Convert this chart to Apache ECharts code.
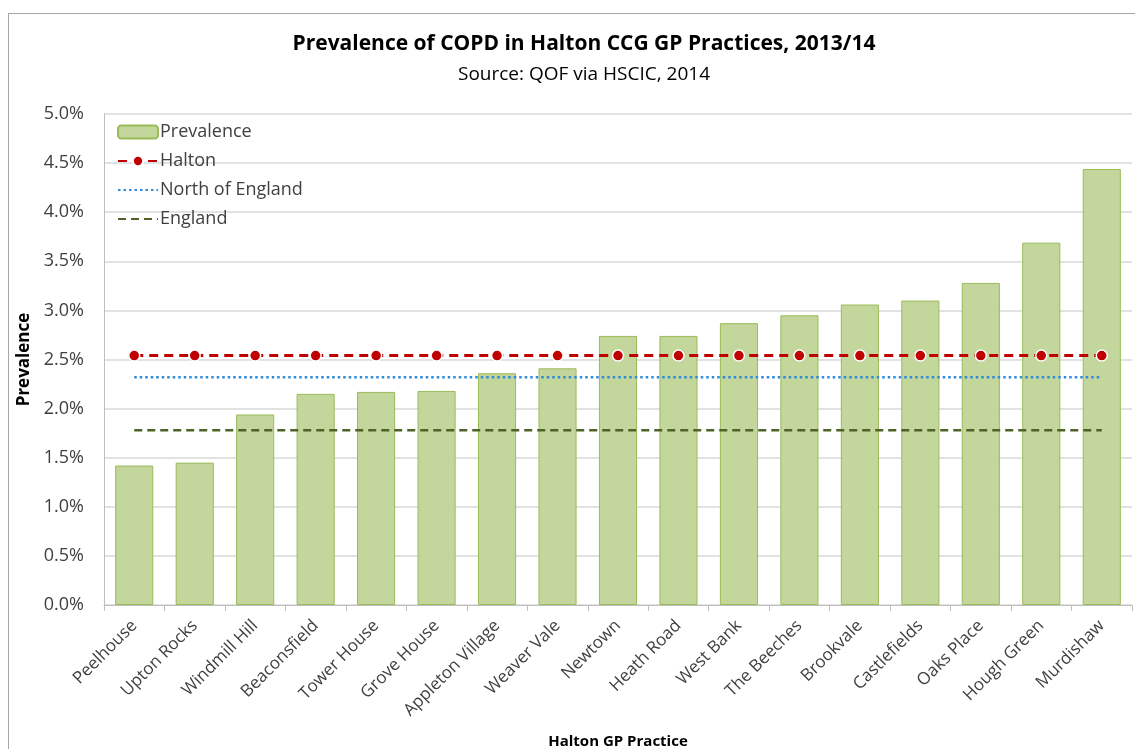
<!DOCTYPE html>
<html>
<head>
<meta charset="utf-8">
<script src="https://cdn.jsdelivr.net/npm/echarts@6/dist/echarts.min.js"></script>
<style>
  html, body { margin: 0; padding: 0; background: #fff; }
  #frame { position: absolute; left: 8px; top: 13px; width: 1140px; height: 745px; border: 1px solid #A6A6A6; box-sizing: border-box; }
  #main { position: absolute; left: 0; top: 0; width: 1135px; height: 749px; }
</style>
</head>
<body>
<div id="frame"></div>
<div id="main"></div>
<script>
// practices, sorted by prevalence
var practices = ['Peelhouse', 'Upton Rocks', 'Windmill Hill', 'Beaconsfield', 'Tower House',
  'Grove House', 'Appleton Village', 'Weaver Vale', 'Newtown', 'Heath Road', 'West Bank',
  'The Beeches', 'Brookvale', 'Castlefields', 'Oaks Place', 'Hough Green', 'Murdishaw'];
// prevalence in %
var prevalence = [1.42, 1.45, 1.94, 2.15, 2.17, 2.18, 2.36, 2.41, 2.74, 2.74, 2.87, 2.95, 3.06, 3.10, 3.28, 3.69, 4.44];
var haltonRate = 2.54;
var northRate = 2.32;
var englandRate = 1.78;
var yTicks = [0, 0.5, 1, 1.5, 2, 2.5, 3, 3.5, 4, 4.5, 5];

var halton = practices.map(function () { return haltonRate; });
var north = practices.map(function () { return northRate; });
var england = practices.map(function () { return englandRate; });

var font = '"Open Sans", "Liberation Sans", sans-serif';
var chart = echarts.init(document.getElementById('main'));

var option = {
  animation: false,
  textStyle: { fontFamily: font },
  title: [
    {
      text: 'Prevalence of COPD in Halton CCG GP Practices, 2013/14',
      left: 579, top: 29, textAlign: 'center',
      textStyle: { fontSize: 21, fontWeight: 'bold', color: '#000' }
    },
    {
      text: 'Source: QOF via HSCIC, 2014',
      left: 579, top: 60, textAlign: 'center',
      textStyle: { fontSize: 19, fontWeight: 'normal', color: '#000' }
    }
  ],
  legend: {
    orient: 'vertical',
    left: 112, top: 118,
    itemWidth: 40, itemHeight: 13, itemGap: 11,
    textStyle: { fontSize: 18, color: '#404040', padding: [0, 0, 0, -3] },
    data: [
      'Prevalence',
      'Halton',
      { name: 'North of England', itemStyle: { opacity: 0 } },
      { name: 'England', itemStyle: { opacity: 0 } }
    ]
  },
  grid: { left: 104, right: 3, top: 114, bottom: 144, containLabel: false, outerBoundsMode: 'none' },
  xAxis: {
    type: 'category',
    data: practices,
    name: 'Halton GP Practice',
    nameLocation: 'middle',
    nameGap: 129,
    nameTextStyle: { fontSize: 15, fontWeight: 'bold', color: '#000' },
    axisLine: { lineStyle: { color: '#BFBFBF', width: 1 } },
    axisTick: { show: true, alignWithLabel: false, length: 6, lineStyle: { color: '#BFBFBF' } },
    axisLabel: { rotate: 45, fontSize: 17, color: '#404040', margin: 18, interval: 0 }
  },
  yAxis: {
    type: 'value',
    min: 0, max: 5, interval: 0.5,
    name: 'Prevalence',
    nameLocation: 'middle',
    nameGap: 70,
    nameTextStyle: { fontSize: 17, fontWeight: 'bold', color: '#000' },
    axisLine: { show: true, lineStyle: { color: '#BFBFBF' } },
    axisTick: { show: false },
    splitLine: { lineStyle: { color: '#D9D9D9', width: 1.5 } },
    axisLabel: {
      fontSize: 18, color: '#404040', margin: 20,
      formatter: function (v) { return yTicks.indexOf(v) >= 0 ? v.toFixed(1) + '%' : ''; }
    }
  },
  series: [
    {
      name: 'Prevalence',
      type: 'bar',
      data: prevalence,
      barCategoryGap: '37%',
      itemStyle: { color: '#C3D69B', borderColor: '#9BBB59', borderWidth: 1 }
    },
    {
      name: 'Halton',
      type: 'line',
      data: halton,
      symbol: 'circle', symbolSize: 11,
      itemStyle: { color: '#C00000', borderColor: '#fff', borderWidth: 1.5 },
      lineStyle: { color: '#C00000', width: 3, type: [9, 6] },
      z: 4
    },
    {
      name: 'North of England',
      type: 'line',
      data: north,
      symbol: 'none',
      itemStyle: { color: '#2E8BD8' },
      lineStyle: { color: '#2E8BD8', width: 2.5, type: [2.5, 3] },
      z: 3
    },
    {
      name: 'England',
      type: 'line',
      data: england,
      symbol: 'none',
      itemStyle: { color: '#4F6228' },
      lineStyle: { color: '#4F6228', width: 2.5, type: [8, 5] },
      z: 3
    }
  ]
};

chart.setOption(option);
</script>
</body>
</html>
